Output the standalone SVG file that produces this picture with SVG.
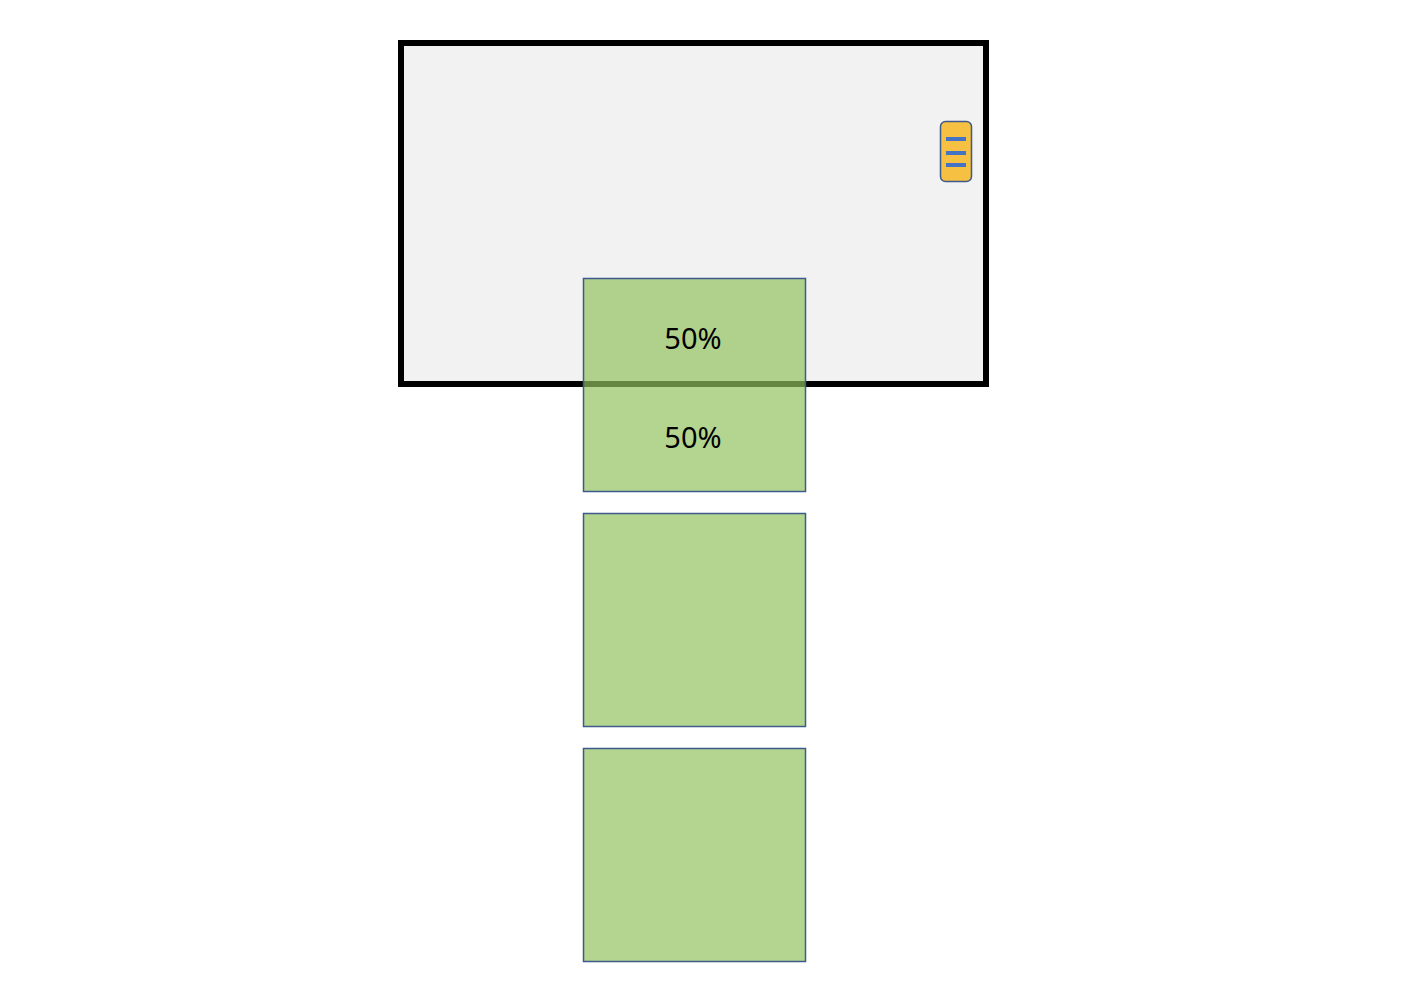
<svg xmlns="http://www.w3.org/2000/svg" width="1414" height="1002" viewBox="0 0 1414 1002">
<style>
.box{fill:#93C25D;fill-opacity:0.69;stroke:#3E5A8C;stroke-width:1.5}
.lbl{font-family:"Noto Sans","Open Sans",sans-serif;font-size:29px;fill:#000;text-anchor:middle}
.bar{stroke:#4472C4;stroke-width:4}
</style>
<rect width="1414" height="1002" fill="#fff"/>
<g id="frame">
<rect x="401" y="43" width="585" height="341" fill="#F2F2F2" stroke="#000" stroke-width="6"/>
</g>
<g id="handle">
<rect x="940.5" y="121.5" width="31" height="60" rx="5" fill="#F6C142" stroke="#3E5A8C" stroke-width="1.5"/>
<line class="bar" x1="946" y1="139" x2="966" y2="139"/>
<line class="bar" x1="946" y1="153" x2="966" y2="153"/>
<line class="bar" x1="946" y1="165" x2="966" y2="165"/>
</g>
<g id="box1">
<rect class="box" x="583.5" y="278.5" width="222" height="213"/>
<text class="lbl" x="693" y="349">50%</text>
<text class="lbl" x="693" y="448">50%</text>
</g>
<g id="box2"><rect class="box" x="583.5" y="513.5" width="222" height="213"/></g>
<g id="box3"><rect class="box" x="583.5" y="748.5" width="222" height="213"/></g>
<g id="connectors"/>
</svg>
